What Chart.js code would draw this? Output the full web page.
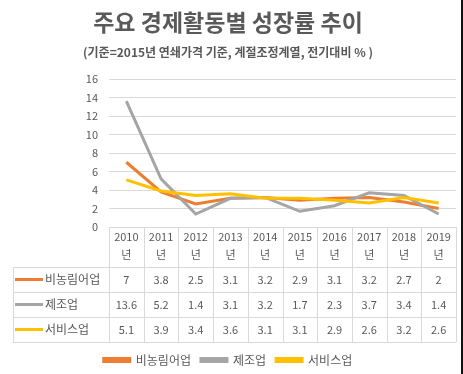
<!DOCTYPE html>
<html>
<head>
<meta charset="utf-8">
<script src="https://cdn.jsdelivr.net/npm/chart.js"></script>
<style>
  body { margin: 0; background: #fff; }
  .wrap { width: 461px; height: 374px; border-right: 2px solid #111; }
</style>
</head>
<body>
<div class="wrap"><canvas id="c" width="461" height="374"></canvas></div>
<script>
// data
const years = ['2010', '2011', '2012', '2013', '2014', '2015', '2016', '2017', '2018', '2019'];
const seriesNames = ['비농림어업', '제조업', '서비스업'];
const nonFarm = [7, 3.8, 2.5, 3.1, 3.2, 2.9, 3.1, 3.2, 2.7, 2];
const manufacturing = [13.6, 5.2, 1.4, 3.1, 3.2, 1.7, 2.3, 3.7, 3.4, 1.4];
const services = [5.1, 3.9, 3.4, 3.6, 3.1, 3.1, 2.9, 2.6, 3.2, 2.6];
const yTicks = [0, 2, 4, 6, 8, 10, 12, 14, 16];

const FONT = '"Noto Sans CJK KR", "Noto Sans", sans-serif';
const TEXT = '#595959';
const GRID = '#D9D9D9';
const colors = ['#ED7D31', '#A5A5A5', '#FFC000'];
const seriesValues = [nonFarm, manufacturing, services];

// draws the Excel-style data table under the x axis
const dataTable = {
  id: 'dataTable',
  afterDraw(chart) {
    const { ctx, chartArea, scales } = chart;
    const x = scales.x;
    const colW = x.getPixelForValue(1) - x.getPixelForValue(0);
    const top = chartArea.bottom;
    const headerBottom = top + 40;
    const rowH = 25;
    const tableLeft = 13;
    const tableBottom = headerBottom + rowH * seriesNames.length;

    ctx.save();
    ctx.strokeStyle = GRID;
    ctx.lineWidth = 1;
    ctx.beginPath();
    // vertical column lines
    for (let i = 0; i <= years.length; i++) {
      const px = Math.round(x.getPixelForValue(0) - colW / 2 + i * colW) + 0.5;
      ctx.moveTo(px, top);
      ctx.lineTo(px, tableBottom);
    }
    ctx.moveTo(tableLeft + 0.5, headerBottom);
    ctx.lineTo(tableLeft + 0.5, tableBottom);
    // horizontal row lines
    for (let r = 0; r <= seriesNames.length; r++) {
      const py = Math.round(headerBottom + r * rowH) + 0.5;
      ctx.moveTo(tableLeft, py);
      ctx.lineTo(chartArea.right, py);
    }
    ctx.stroke();

    ctx.textBaseline = 'middle';
    seriesNames.forEach((name, r) => {
      const cy = headerBottom + r * rowH + rowH / 2;
      ctx.strokeStyle = colors[r];
      ctx.lineWidth = 3;
      ctx.beginPath();
      ctx.moveTo(15, cy);
      ctx.lineTo(43, cy);
      ctx.stroke();

      ctx.fillStyle = TEXT;
      ctx.font = '12px ' + FONT;
      ctx.textAlign = 'left';
      ctx.fillText(name, 45, cy);

      ctx.font = '11px ' + FONT;
      ctx.textAlign = 'center';
      seriesValues[r].forEach((v, i) => {
        ctx.fillText(String(v), x.getPixelForValue(i), cy);
      });
    });
    ctx.restore();
  }
};

new Chart(document.getElementById('c'), {
  type: 'line',
  data: {
    labels: years.map(y => [y, '년']),
    datasets: seriesNames.map((name, i) => ({
      label: name,
      data: seriesValues[i],
      borderColor: colors[i],
      backgroundColor: colors[i],
      borderWidth: 3,
      pointRadius: 0,
      tension: 0,
      order: 3 - i
    }))
  },
  options: {
    responsive: false,
    animation: false,
    layout: { padding: { left: 0, right: 5, top: 0, bottom: -2 } },
    plugins: {
      title: {
        display: true,
        text: '주요 경제활동별 성장률 추이',
        color: TEXT,
        font: { family: FONT, size: 23, weight: 'bold' },
        padding: { top: 8, bottom: 4 }
      },
      subtitle: {
        display: true,
        text: '(기준=2015년 연쇄가격 기준, 계절조정계열, 전기대비 % )',
        color: TEXT,
        font: { family: FONT, size: 12, weight: 'bold' },
        padding: { top: 5.2, bottom: 19.8 }
      },
      legend: {
        position: 'bottom',
        labels: {
          color: TEXT,
          font: { family: FONT, size: 12 },
          boxWidth: 26,
          boxHeight: 3,
          padding: 10,
          sort: (a, b) => a.datasetIndex - b.datasetIndex
        }
      },
      tooltip: { enabled: false }
    },
    scales: {
      x: {
        offset: true,
        grid: { display: false, drawTicks: false },
        border: { display: false },
        ticks: {
          color: TEXT,
          font: { family: FONT, size: 11, lineHeight: 1.7 },
          padding: 0,
          maxRotation: 0,
          autoSkip: false
        },
        afterFit(scale) { scale.height = 117; }
      },
      y: {
        min: 0,
        max: 16,
        afterBuildTicks(scale) { scale.ticks = yTicks.map(v => ({ value: v })); },
        grid: { color: GRID, drawTicks: false },
        border: { display: false },
        ticks: {
          color: TEXT,
          font: { family: FONT, size: 11 },
          padding: 11
        },
        afterFit(scale) { scale.width = 109; }
      }
    }
  },
  plugins: [dataTable]
});
</script>
</body>
</html>
